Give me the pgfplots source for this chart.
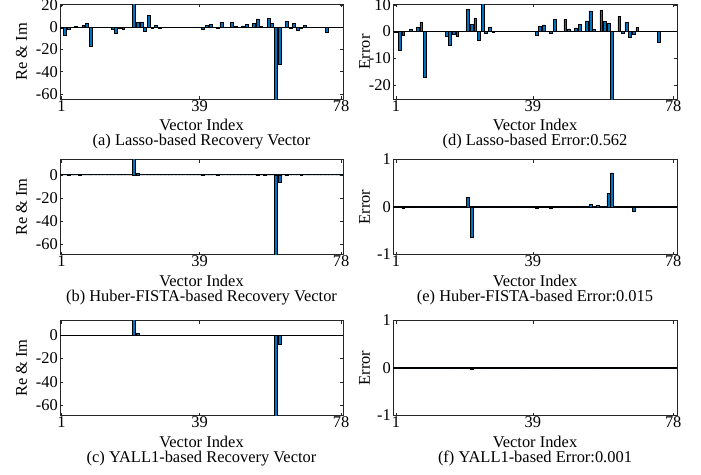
\documentclass[border=0pt]{standalone}
\usepackage{pgfplots}
\usepackage{pgfplotstable}
\pgfplotsset{compat=1.18}
\usepackage{fontspec}
\setmainfont{Liberation Serif}
\definecolor{barblue}{RGB}{0,114,189}
\definecolor{axgray}{RGB}{38,38,38}
\newcommand\ff{\fontsize{16.5}{16}\selectfont}

% columns: x, a = Lasso recovery, b = Huber-FISTA recovery, c = YALL1 recovery,
% d = Lasso error, e = Huber-FISTA error, f = YALL1 error
\pgfplotstableread[row sep=\\]{
x a b c d e f\\
1 -0.3 0 0 -0.3 0 0\\ 2 -6.8 0 0 -6.8 0 0\\ 3 -1.5 -0.03 -0.005 -1.5 -0.03 -0.005\\
4 0 0 0 0 0 0\\ 5 0.7 0 0 0.7 0 0\\ 6 0 0.01 0 0 0.01 0\\ 7 1.7 0 0 1.7 0 0\\
8 3.6 0 0 3.6 0 0\\ 9 -17 0 0 -17 0 0\\ 10 0 0 0 0 0 0\\ 11 0 0 0 0 0 0\\
12 0 0 0 0 0 0\\ 13 0 0 0 0 0 0\\ 14 0 0 0 0 0 0\\ 15 -1.8 0 0 -1.8 0 0\\
16 -5.2 0 0 -5.2 0 0\\ 17 -1.1 0 0 -1.1 0 0\\ 18 -1.8 0 0 -1.8 0 0\\
19 0 0 0 0 0 0\\ 20 0 0 0 0 0 0\\ 21 23.4 15.2 15 8.4 0.2 0\\
22 4.8 1.36 1.98 2.8 -0.64 -0.02\\ 23 5.1 0 0 5.1 0 0\\ 24 -3.1 0 0 -3.1 0 0\\
25 10.8 0 0 10.8 0 0\\ 26 -0.5 0 0 -0.5 0 0\\ 27 1.6 0 0 1.6 0 0\\
28 -0.3 0 0 -0.3 0 0\\ 29 0 0 0 0 0 0\\ 30 0 0 0 0 0 0\\ 31 0 0 0 0 0 0\\
32 0 0 0 0 0 0\\ 33 0 0 0 0 0 0\\ 34 0 0 0 0 0 0\\ 35 0 0 0 0 0 0\\
36 0 0 0 0 0 0\\ 37 0 0 0 0 0 0\\ 38 0 0 0 0 0 0\\ 39 0 0 0 0 0 0\\
40 -1.5 -0.03 0 -1.5 -0.03 0\\ 41 1.9 0 0 1.9 0 0\\ 42 2.5 0 0 2.5 0 0\\
43 0 0 0 0 0 0\\ 44 -0.5 -0.03 0 -0.5 -0.03 0\\ 45 4.7 0 0 4.7 0 0\\
46 0.3 0 0 0.3 0 0\\ 47 0 0 0 0 0 0\\ 48 4.7 0 0 4.7 0 0\\ 49 1.0 0 0 1.0 0 0\\
50 0.3 0 0 0.3 0 0\\ 51 1.4 0 0 1.4 0 0\\ 52 2.7 0 0 2.7 0 0\\ 53 0 0 0 0 0 0\\
54 4.0 0 0 4.0 0 0\\ 55 7.7 0.05 0 7.7 0.05 0\\ 56 0.7 0 0 0.7 0 0\\
57 0 0.04 0 0 0.04 0\\ 58 8.0 0 0 8.0 0 0\\ 59 3.7 0 0 3.7 0 0\\
60 -66.9 -69.71 -70 3.1 0.29 0\\ 61 -33 -6.78 -7.5 -25.5 0.72 0\\
62 0 0 0 0 0 0\\ 63 5.8 0.01 0 5.8 0.01 0\\ 64 -0.8 0 0 -0.8 0 0\\
65 3.5 0 0 3.5 0 0\\ 66 -2.1 0 0 -2.1 0 0\\ 67 -1.1 -0.09 0 -1.1 -0.09 0\\
68 1.6 0 0 1.6 0 0\\ 69 0 0 0 0 0 0\\ 70 0 0 0 0 0 0\\ 71 0 0 0 0 0 0\\
72 0 0 0 0 0 0\\ 73 0 0 0 0 0 0\\ 74 -3.9 0 0 -3.9 0 0\\ 75 0 0 0 0 0 0\\
76 0 0 0 0 0 0\\ 77 0 0 0 0 0 0\\ 78 0 0 0 0 0 0\\
}\data

\tikzset{capt/.style={anchor=base, yshift=-46.5bp, font=\ff, inner sep=0pt, text=black}}

\pgfplotsset{
  panel/.style={
    scale only axis, height=95bp,
    anchor=south west,
    ybar, bar width=0.8,
    enlargelimits=false,
    clip mode=individual,
    xtick={1,39,78}, xticklabels={1,39,78},
    axis line style={axgray, line width=0.6bp},
    major tick length=3bp,
    tick style={axgray, line width=0.5bp},
    tick align=inside,
    tick label style={font=\ff, text=black},
    xticklabel style={inner sep=1bp, anchor=north},
    yticklabel style={inner sep=2bp, anchor=east},
    /pgf/number format/assume math mode=true,
    label style={font=\ff, text=black},
    xlabel={Vector Index},
    xlabel style={at={(axis description cs:0.5,0)}, anchor=base, yshift=-31.5bp, inner sep=0pt},
    ylabel style={anchor=center, inner sep=0pt},
    extra y ticks={0}, extra y tick labels={},
    extra y tick style={grid=major, major grid style={black, line width=1.2bp}, major tick length=0pt},
  },
  leftpanel/.style={panel, width=283bp, xmin=0.6, xmax=78.5,
    ylabel={Re \& Im}, ylabel style={at={(axis description cs:-0.136,0.5)}}},
  rightpanel/.style={panel, width=284bp, xmin=0.15, xmax=79.05,
    ylabel={Error}, ylabel style={at={(axis description cs:-0.1,0.5)}}},
  barstyle/.style={fill=barblue, draw=black, line width=0.5bp},
}

\begin{document}
\begin{tikzpicture}
\useasboundingbox (0,0) rectangle (701bp,-475bp);

% (a)
\begin{axis}[leftpanel, at={(60bp,-99.3bp)}, ymin=-65, ymax=21,
  ytick={-60,-40,-20,0,20}, yticklabels={-60,-40,-20,0,20}]
\addplot[barstyle] table[x=x, y=a] {\data};
\node[capt] at (axis description cs:0.5,0) {(a) Lasso-based Recovery Vector};
\end{axis}

% (b)
\begin{axis}[leftpanel, at={(60bp,-254.5bp)}, ymin=-68.5, ymax=13.1,
  ytick={-60,-40,-20,0}, yticklabels={-60,-40,-20,0}]
\addplot[barstyle] table[x=x, y=b] {\data};
\node[capt] at (axis description cs:0.5,0) {(b) Huber-FISTA-based Recovery Vector};
\end{axis}

% (c)
\begin{axis}[leftpanel, at={(60bp,-415.5bp)}, ymin=-69, ymax=12.8,
  ytick={-60,-40,-20,0}, yticklabels={-60,-40,-20,0}]
\addplot[barstyle] table[x=x, y=c] {\data};
\node[capt] at (axis description cs:0.5,0) {(c) YALL1-based Recovery Vector};
\end{axis}

% (d)
\begin{axis}[rightpanel, at={(393bp,-99.3bp)}, ymin=-25.3, ymax=10.2,
  ytick={-20,-10,0,10}, yticklabels={-20,-10,0,10}]
\addplot[barstyle] table[x=x, y=d] {\data};
\node[capt] at (axis description cs:0.5,0) {(d) Lasso-based Error:0.562};
\end{axis}

% (e)
\begin{axis}[rightpanel, at={(393bp,-254.5bp)}, ymin=-1, ymax=1,
  ytick={-1,0,1}, yticklabels={-1,0,1}]
\addplot[barstyle] table[x=x, y=e] {\data};
\node[capt] at (axis description cs:0.5,0) {(e) Huber-FISTA-based Error:0.015};
\end{axis}

% (f)
\begin{axis}[rightpanel, at={(393bp,-415.5bp)}, ymin=-1, ymax=1,
  ytick={-1,0,1}, yticklabels={-1,0,1}]
\addplot[barstyle] table[x=x, y=f] {\data};
\node[capt] at (axis description cs:0.5,0) {(f) YALL1-based Error:0.001};
\end{axis}
\end{tikzpicture}
\end{document}
